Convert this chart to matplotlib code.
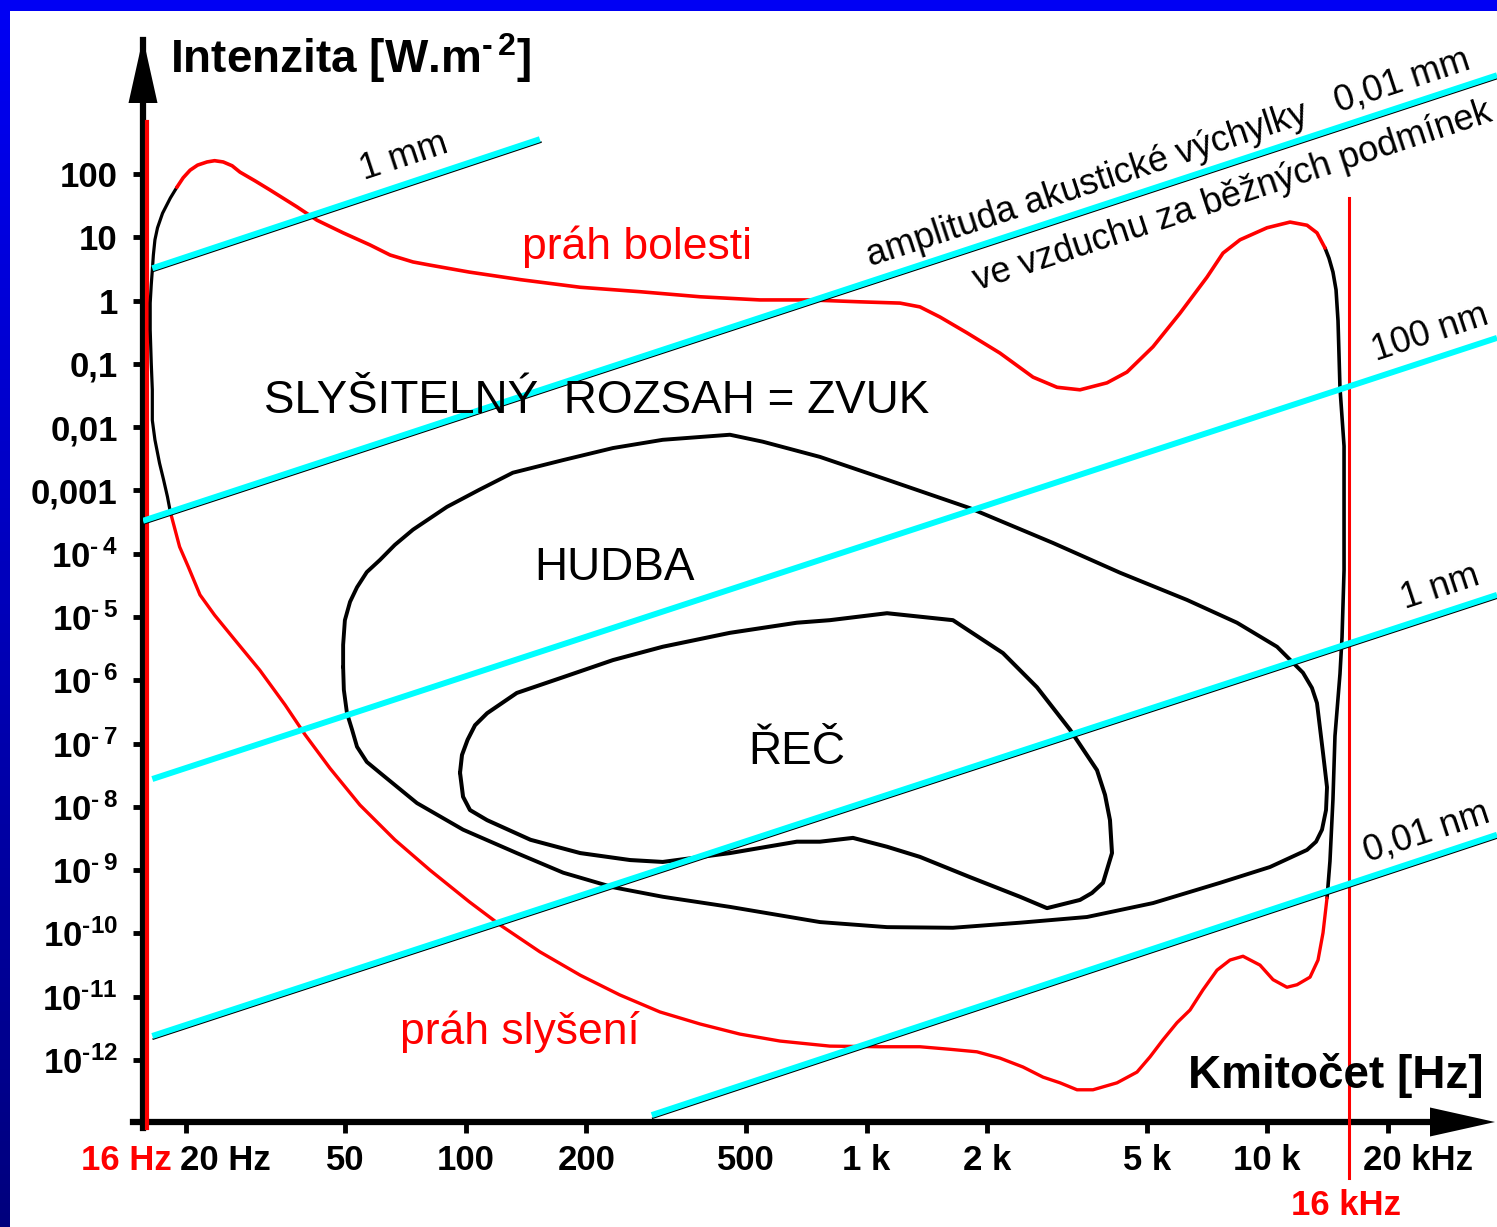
import numpy as np
import matplotlib.pyplot as plt
from matplotlib import transforms
from matplotlib.patches import Rectangle, Polygon
from matplotlib.ticker import NullLocator

plt.rcParams['font.family'] = ['Liberation Sans', 'DejaVu Sans']
plt.rcParams['mathtext.fontset'] = 'custom'
plt.rcParams['mathtext.rm'] = 'Liberation Sans'
plt.rcParams['mathtext.bf'] = 'Liberation Sans:bold'
plt.rcParams['mathtext.default'] = 'bf'

W, H = 1497, 1227

# osa x - kmitočet [Hz]
xtick_freq = [20, 50, 100, 200, 500, 1000, 2000, 5000, 10000, 20000]
xtick_labels = ['20 Hz', '50', '100', '200', '500', '1 k', '2 k', '5 k', '10 k', '20 kHz']

# osa y - intenzita [W.m-2]
ytick_int = [1e2, 1e1, 1e0, 1e-1, 1e-2, 1e-3, 1e-4, 1e-5, 1e-6,
             1e-7, 1e-8, 1e-9, 1e-10, 1e-11, 1e-12]
ytick_labels = ['100', '10', '1', '0,1', '0,01', '0,001',
                r'$10^{‐\,4}$', r'$10^{‐\,5}$', r'$10^{‐\,6}$', r'$10^{‐\,7}$',
                r'$10^{‐\,8}$', r'$10^{‐\,9}$', r'$10^{‐10}$', r'$10^{‐11}$',
                r'$10^{‐12}$']

# hranice slyšitelnosti (hladiny v dB, 0 dB = 1e-12 W/m2)
left_f = [19.0, 18.3, 17.5, 17.0, 16.75, 16.6, 16.5, 16.4, 16.3, 16.3, 16.4,
          16.5, 16.5, 16.75, 17.2, 17.6, 18.0, 18.3]
left_db = [137.9, 136.2, 133.8, 131.5, 129.6, 127.2, 124.8, 122.5, 119.6, 115.4,
           110.1, 105.9, 101.1, 98.0, 94.3, 91.7, 89.0, 86.6]

pain_f = [19.0, 19.7, 20.5, 21.4, 22.6, 23.6, 24.8, 26.1, 27.3, 29.8, 32.4, 37.9,
          42.5, 49.4, 57.6, 64.7, 73.8, 81.4, 102, 137, 193, 272, 384, 542, 723,
          963, 1212, 1359, 1525, 1781, 2153, 2603, 2988, 3410, 3982, 4467, 5187,
          6058, 7074, 7756, 8552, 9987, 11400, 12570, 13310, 13940]
pain_db = [137.9, 139.4, 140.6, 141.4, 141.9, 142.1, 141.9, 141.3, 140.3, 138.9,
           137.5, 134.8, 132.7, 130.7, 128.8, 127.2, 126.1, 125.6, 124.5, 123.3,
           122.1, 121.4, 120.6, 120.1, 120.1, 119.8, 119.6, 119.0, 117.4, 114.9,
           111.7, 107.9, 106.3, 105.9, 107.0, 108.7, 112.7, 118.0, 123.7, 127.5,
           129.6, 131.5, 132.4, 131.9, 130.7, 128.3]

right_f = [13940, 14260, 14590, 14850, 15020, 15190, 15550, 15550, 15370, 15190,
           14760, 14590, 14340, 14180, 14100]
right_db = [128.3, 126.7, 124.5, 121.7, 116.8, 106.2, 97.0, 77.4, 66.8, 61.0,
            51.2, 41.2, 31.4, 27.5, 25.6]

hear_f = [18.3, 19.3, 20.3, 21.7, 23.6, 26.5, 30.6, 35.4, 39.7, 45.8, 54.4, 66.5,
          81.4, 102, 122, 153, 193, 242, 305, 384, 483, 608, 810, 1080, 1359,
          1615, 1886, 2153, 2457, 2757, 3040, 3352, 3674, 4218, 4732, 5099, 5494,
          5954, 6416, 6914, 7493, 8074, 8700, 9593, 10340, 11200, 11870, 12790,
          13390, 13780, 14100]
hear_db = [86.6, 81.1, 77.9, 73.5, 70.3, 66.4, 61.6, 56.1, 51.4, 46.1, 40.3, 34.8,
           30.0, 25.0, 21.3, 17.1, 13.4, 10.3, 7.6, 5.7, 4.1, 3.0, 2.2, 2.1, 2.1,
           1.7, 1.3, 0.3, -1.1, -2.7, -3.6, -4.7, -4.7, -3.6, -1.9, 0.5, 3.2, 5.9,
           7.9, 11.1, 14.2, 15.8, 16.4, 15.0, 12.7, 11.5, 11.9, 13.1, 15.8, 20.1,
           25.6]

# oblast hudby a řeči
music_f = [49.4, 49.4, 49.9, 51.4, 53.5, 56.6, 61.0, 66.5, 73.8, 89.7, 108, 131,
           175, 233, 310, 456, 551, 765, 1125, 1812, 2920, 4291, 6306, 8405, 10580,
           12280, 12930, 13310, 13780, 13940, 14100, 14020, 13700, 13240, 12570,
           10160, 7623, 5187, 3549, 2415, 1643, 1125, 765, 456, 310, 233, 175, 134,
           98.4, 75.5, 61.0, 56.6, 53.5, 52.0, 50.5, 49.6, 49.4]
music_db = [62.1, 65.6, 69.5, 72.4, 74.7, 77.1, 79.0, 81.4, 83.8, 87.4, 90.1, 92.8,
            94.8, 96.7, 98.0, 98.8, 97.7, 95.3, 91.7, 87.2, 81.7, 77.0, 72.7, 69.1,
            65.3, 61.2, 58.8, 56.4, 48.5, 45.8, 43.1, 39.5, 36.4, 34.5, 33.2, 30.5,
            28.0, 24.8, 22.6, 21.7, 20.9, 21.0, 21.8, 24.2, 25.8, 27.3, 29.6, 32.7,
            36.4, 40.6, 45.4, 47.1, 49.5, 52.2, 54.8, 58.5, 62.1]

speech_f = [96.7, 97.8, 101, 105.4, 113, 134, 175, 233, 310, 456, 670, 810, 1125,
            1643, 2190, 2663, 3219, 3760, 3937, 4051, 4098, 3892, 3653, 3410, 2821,
            2415, 1812, 1359, 1125, 925, 765, 670, 456, 310, 257, 193, 145, 113,
            102.4, 98.4, 96.7]
speech_db = [45.4, 48.2, 50.6, 52.9, 54.8, 58.0, 60.5, 63.2, 65.3, 67.5, 69.1, 69.5,
             70.6, 69.5, 64.3, 58.9, 52.2, 45.8, 41.9, 37.9, 32.7, 28.0, 26.4, 25.3,
             24.0, 25.8, 28.9, 32.1, 33.7, 35.1, 34.5, 34.5, 32.7, 31.3, 31.6, 32.7,
             34.8, 37.9, 39.5, 41.6, 45.4]

# přímky stejné amplitudy výchylky (začátek a konec)
amp_names = ['1 mm', '0,01 mm', '100 nm', '1 nm', '0,01 nm']
amp_f0 = [16.5, 15.64, 16.5, 16.5, 291]
amp_f1 = [153, 37450, 37450, 37450, 37450]
amp_db0 = [125.1, 85.2, 44.4, 3.8, -8.7]
amp_db1 = [145.5, 155.6, 114.1, 73.5, 35.6]
amp_shadow = [True, True, False, True, True]

limit_f = [16, 16000]


def to_int(db):
    return 1e-12 * 10 ** (np.asarray(db) / 10.0)


def px(x, y):
    return (x / W, 1 - y / H)


fig = plt.figure(figsize=(W / 100, H / 100), dpi=100)

# modré pozadí s přechodem + bílá plocha
bg = fig.add_axes([0, 0, 1, 1], zorder=-10)
g = np.linspace(0, 1, 256)[:, None]
bg.imshow(np.dstack([0 * g, 0 * g, 0.49 + 0.47 * g]), origin='lower',
          extent=[0, 1, 0, 1], aspect='auto')
bg.add_patch(Rectangle((10 / W, 0), 1, 1 - 11 / H, facecolor='white', edgecolor='none'))
bg.set_xlim(0, 1)
bg.set_ylim(0, 1)
bg.axis('off')

y_top, y_bot = 40, 1122
ax = fig.add_axes([143 / W, 1 - y_bot / H, (W - 143) / W, (y_bot - y_top) / H])
ax.patch.set_alpha(0)
ax.set_xscale('log')
ax.set_yscale('log')
ax.set_xlim(15.64, 37450)
ax.set_ylim(10 ** -12.979, 10 ** 4.117)

for s in ['top', 'right']:
    ax.spines[s].set_visible(False)
for s in ['left', 'bottom']:
    ax.spines[s].set_linewidth(4.5)
ax.spines['left'].set_bounds(10 ** -13.074, 10 ** 4.117)
ax.spines['bottom'].set_bounds(14.76, 27000)

ax.set_xticks(xtick_freq, xtick_labels)
ax.set_yticks(ytick_int, ytick_labels)
ax.xaxis.set_minor_locator(NullLocator())
ax.yaxis.set_minor_locator(NullLocator())
ax.tick_params(axis='both', direction='out', width=3.5, labelsize=25)
ax.tick_params(axis='x', length=8, pad=7.5)
ax.tick_params(axis='y', length=7.2, pad=11)

for lbl in ax.get_xticklabels() + ax.get_yticklabels():
    lbl.set_fontweight('bold')
for lbl in ax.get_xticklabels():
    if 'Hz' in lbl.get_text():
        dx = -6 if lbl.get_text() == '20 Hz' else -25
        lbl.set_ha('left')
        lbl.set_transform(lbl.get_transform() +
                          transforms.ScaledTranslation(dx / 100, 0, fig.dpi_scale_trans))

# šipky os
ax.add_patch(Polygon([px(143, 38), px(128.5, 103), px(157.5, 103)], closed=True,
                     facecolor='black', edgecolor='none', transform=fig.transFigure,
                     clip_on=False))
ax.add_patch(Polygon([px(1495, 1122), px(1430, 1107.5), px(1430, 1136.5)], closed=True,
                     facecolor='black', edgecolor='none', transform=fig.transFigure,
                     clip_on=False))

# meze 16 Hz a 16 kHz
ax.axvline(limit_f[0], ymin=-0.0055, ymax=0.9242, color='red', lw=3, clip_on=False, zorder=3)
ax.axvline(limit_f[1], ymin=-0.0518, ymax=0.854, color='red', lw=2.2, clip_on=False, zorder=3)

# křivky
kw = dict(solid_joinstyle='round', solid_capstyle='round', zorder=4)
ax.plot(left_f, to_int(left_db), color='black', lw=2.3, **kw)
ax.plot(right_f, to_int(right_db), color='black', lw=2.6, **kw)
ax.plot(pain_f, to_int(pain_db), color='red', lw=2.6, **kw)
ax.plot(hear_f, to_int(hear_db), color='red', lw=2.4, **kw)
ax.plot(music_f, to_int(music_db), color='black', lw=2.8, **kw)
ax.plot(speech_f, to_int(speech_db), color='black', lw=2.9, **kw)

shadow = transforms.offset_copy(ax.transData, fig=fig, x=1, y=-3, units='dots')
for f0, f1, d0, d1, sh in zip(amp_f0, amp_f1, amp_db0, amp_db1, amp_shadow):
    if sh:
        ax.plot([f0, f1], to_int([d0, d1]), color='black', lw=1.2, transform=shadow, zorder=5)
    ax.plot([f0, f1], to_int([d0, d1]), color='#00ffff', lw=4.3, zorder=6,
            solid_capstyle='butt')

# popisky
rot = 18.2
fig.text(*px(364, 180), amp_names[0], rotation=rot, rotation_mode='anchor',
         ha='left', va='baseline', fontsize=26)
fig.text(*px(871, 266), 'amplituda akustické výchylky   ' + amp_names[1],
         rotation=rot, rotation_mode='anchor', ha='left', va='baseline', fontsize=26)
fig.text(*px(978, 290), 've vzduchu za běžných podmínek', rotation=rot,
         rotation_mode='anchor', ha='left', va='baseline', fontsize=26)
fig.text(*px(1376, 361), amp_names[2], rotation=rot, rotation_mode='anchor',
         ha='left', va='baseline', fontsize=26)
fig.text(*px(1405, 609), amp_names[3], rotation=rot, rotation_mode='anchor',
         ha='left', va='baseline', fontsize=26)
fig.text(*px(1368, 862), amp_names[4], rotation=rot, rotation_mode='anchor',
         ha='left', va='baseline', fontsize=26)

fig.text(*px(637, 259), 'práh bolesti', color='red', fontsize=32, ha='center', va='baseline')
fig.text(*px(520, 1044), 'práh slyšení', color='red', fontsize=32, ha='center', va='baseline')
fig.text(*px(597, 413), 'SLYŠITELNÝ  ROZSAH = ZVUK', fontsize=33, ha='center', va='baseline')
fig.text(*px(615, 580), 'HUDBA', fontsize=33, ha='center', va='baseline')
fig.text(*px(797, 764), 'ŘEČ', fontsize=33, ha='center', va='baseline')

fig.text(*px(170, 73), r'Intenzita [W.m$^{‐\,2}$]', fontsize=33, fontweight='bold',
         ha='left', va='baseline')
fig.text(*px(1188, 1088), 'Kmitočet [Hz]', fontsize=33, fontweight='bold',
         ha='left', va='baseline')

fig.text(*px(172, 1170), '16 Hz', color='red', fontsize=25, fontweight='bold',
         ha='right', va='baseline')
fig.text(*px(1346, 1215), '16 kHz', color='red', fontsize=25, fontweight='bold',
         ha='center', va='baseline')

fig.savefig('out.png', dpi=100)
